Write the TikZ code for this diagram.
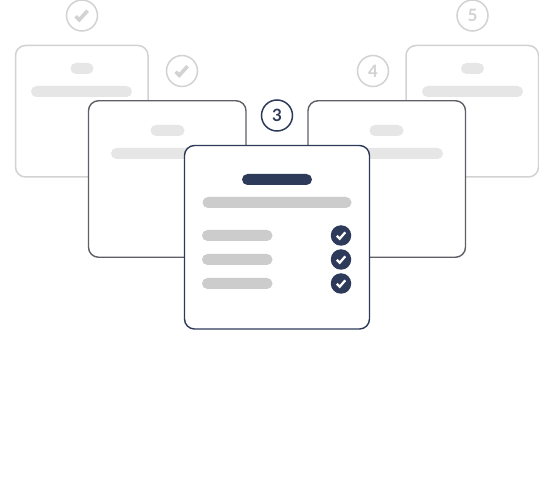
\documentclass[tikz,border=0pt]{standalone}
\usepackage{fontspec}
\setmainfont{Lato}
\definecolor{navy}{HTML}{2E3A59}
\definecolor{softgray}{HTML}{D2D2D2}
\definecolor{midgray}{HTML}{5F5F68}
\definecolor{barlight}{HTML}{E6E6E6}
\definecolor{bardark}{HTML}{CCCCCC}
\tikzset{
  card/.style={draw,fill=white,rounded corners=10pt,inner sep=0pt,outer sep=0pt},
  backcard/.style={card,draw=softgray,line width=1.5pt,minimum width=132.5pt,minimum height=131.5pt},
  midcard/.style={card,draw=midgray,line width=1.4pt,minimum width=157.5pt,minimum height=156.5pt},
  frontcard/.style={card,draw=navy,line width=1.4pt,minimum width=185pt,minimum height=183.5pt},
  bar/.style={fill=barlight,rounded corners=5.5pt,inner sep=0pt,outer sep=0pt,minimum height=11pt},
  badge/.style={circle,draw=softgray,fill=white,line width=1.5pt,minimum size=31pt,inner sep=0pt,text=softgray,font=\fontsize{17}{17}\selectfont\bfseries},
  dot/.style={circle,fill=navy,minimum size=20.5pt,inner sep=0pt},
  tick/.style={line width=2.3pt,line cap=butt,line join=miter},
  bigtick/.style={line width=3.6pt,line cap=butt,line join=miter}
}
\newcommand{\tickin}[2]{\draw[tick,#2] ([shift={(-4.2,0.3)}]#1.center) -- ++(2.9,2.9) -- ++(5.6,-6.4);}
\newcommand{\bigtickin}[2]{\draw[bigtick,#2] ([shift={(-6.4,0.8)}]#1.center) -- ++(3.6,3.6) -- ++(8.4,-9.2);}
\begin{document}
\begin{tikzpicture}[x=1pt,y=-1pt]
    \useasboundingbox (0,0) rectangle (539,481);

    % back cards
    \node[backcard] (cardA) at (81.75,111.25) {};
    \node[backcard] (cardE) at (472.25,111.25) {};
    \node[bar,minimum width=23pt] (titleA) at (82,68.5) {};
    \node[bar,minimum width=101pt] (lineA) at (81.5,91.5) {};
    \node[bar,minimum width=23pt] (titleE) at (472.5,68.5) {};
    \node[bar,minimum width=101pt] (lineE) at (472.5,91.5) {};

    % middle cards
    \node[midcard] (cardB) at (167.25,179) {};
    \node[midcard] (cardD) at (386.75,179) {};
    \node[bar,minimum width=34pt] (titleB) at (167.5,130.5) {};
    \node[bar,minimum width=100pt] (lineB) at (161,153.5) {};
    \node[bar,minimum width=34pt] (titleD) at (386.5,130.5) {};
    \node[bar,minimum width=100pt] (lineD) at (393,153.5) {};

    % front card
    \node[frontcard] (cardC) at (277,237.25) {};
    \node[bar,fill=navy,minimum width=70pt] (titleC) at (277,179.5) {};
    \node[bar,fill=bardark,minimum width=149pt] (lineC) at (277,202.5) {};
    \foreach \i/\y in {1/235.5,2/259.5,3/283.5} {
      \node[dot] (dot\i) at (341,\y) {};
      \node[bar,fill=bardark,minimum width=70.5pt] (row\i) at (237.25,\y) {};
      \tickin{dot\i}{white}
    }

    % numbered badges
    \node[badge] (stepA) at (82,15.5) {};
    \node[badge] (stepB) at (182,71) {};
    \node[badge,draw=navy,text=navy] (stepC) at (277,115.5) {3};
    \node[badge] (stepD) at (373,71) {4};
    \node[badge] (stepE) at (472.5,15.5) {5};
    \bigtickin{stepA}{softgray}
    \bigtickin{stepB}{softgray}
\end{tikzpicture}
\end{document}
